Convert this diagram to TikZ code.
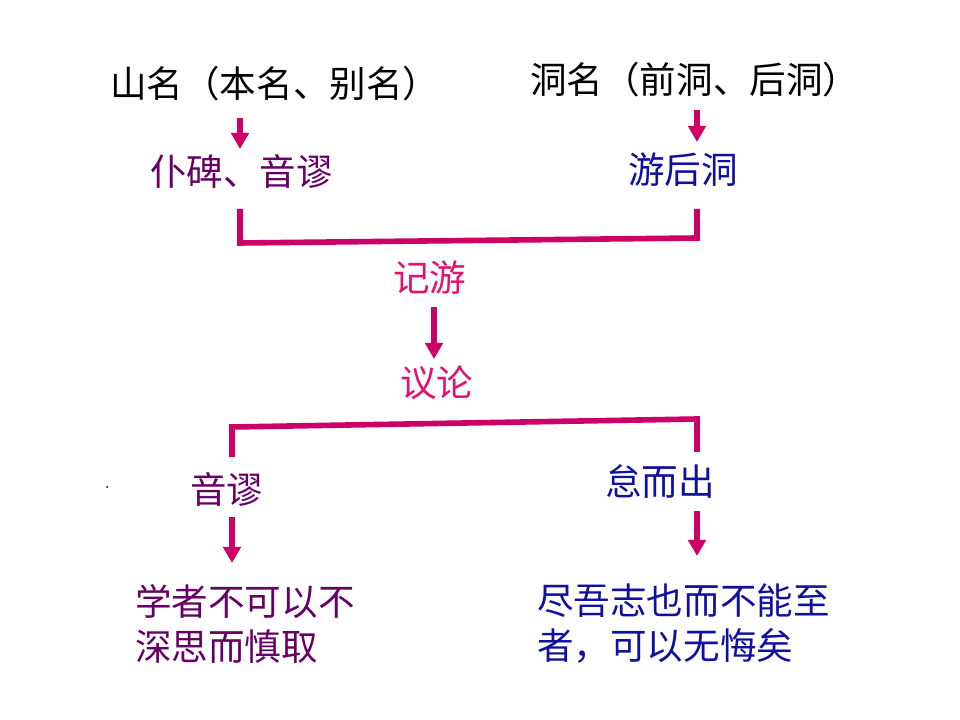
\documentclass[tikz,border=0pt]{standalone}
\usepackage{fontspec}
\setmainfont{Noto Sans CJK SC}
\usetikzlibrary{arrows.meta}
\definecolor{lineMag}{RGB}{204,0,102}
\definecolor{txtPurple}{RGB}{102,0,102}
\definecolor{txtBlue}{RGB}{16,16,160}
\definecolor{txtPink}{RGB}{224,20,110}
\tikzset{>={Triangle[length=0.4cm,width=0.43cm]}}

\begin{document}
\begin{tikzpicture}[x=0.025cm,y=-0.025cm]
  \tikzset{
    lbl/.style={anchor=west,inner sep=0pt,align=left,
                font=\fontsize{26}{32}\selectfont},
    lnk/.style={lineMag,line width=0.14cm},
    arr/.style={lnk,->},
  }
  \useasboundingbox (0,0) rectangle (960,720);

  % NAMES
  \node[lbl] (shan) at (110,84) {山名（本名、别名）};
  \node[lbl] (dong) at (530,80) {洞名（前洞、后洞）};

  % FIRST PART
  \node[lbl,txtPurple] (pubei)  at (150,171) {仆碑、音谬};
  \node[lbl,txtBlue]   (youhou) at (628,170) {游后洞};
  \node[lbl,txtPink]   (jiyou)  at (393,278) {记游};
  \node[lbl,txtPink]   (yilun)  at (400,383) {议论};

  % SECOND PART
  \node[lbl,txtPurple] (yinmiu) at (190,489) {音谬};
  \node[lbl,txtBlue]   (daier)  at (605,482) {怠而出};
  \node[lbl,txtPurple] (xuezhe) at (135,624) {学者不可以不\\深思而慎取};
  \node[lbl,txtBlue]   (jinwu)  at (537,624) {尽吾志也而不能至\\者，可以无悔矣};

  % ARROWS
  \foreach \name/\x/\ya/\yb in {a1/240/118/149, a2/697/110/142,
                                a3/434/307/359, a4/232/517/563,
                                a5/697/511/556}{
    \coordinate (\name-s) at (\x,\ya);
    \coordinate (\name-e) at (\x,\yb);
    \draw[arr] (\name-s) -- (\name-e);
  }

  % BRACKETS
  \coordinate (b1l) at (240,209); \coordinate (b1r) at (697,209);
  \draw[lnk] (b1l) -- (240,243) -- (697,238) -- (b1r);
  \coordinate (b2l) at (232,457); \coordinate (b2r) at (697,452);
  \draw[lnk] (b2l) -- (232,427) -- (697,419) -- (b2r);

  \fill (107,487) circle (1);
\end{tikzpicture}
\end{document}
